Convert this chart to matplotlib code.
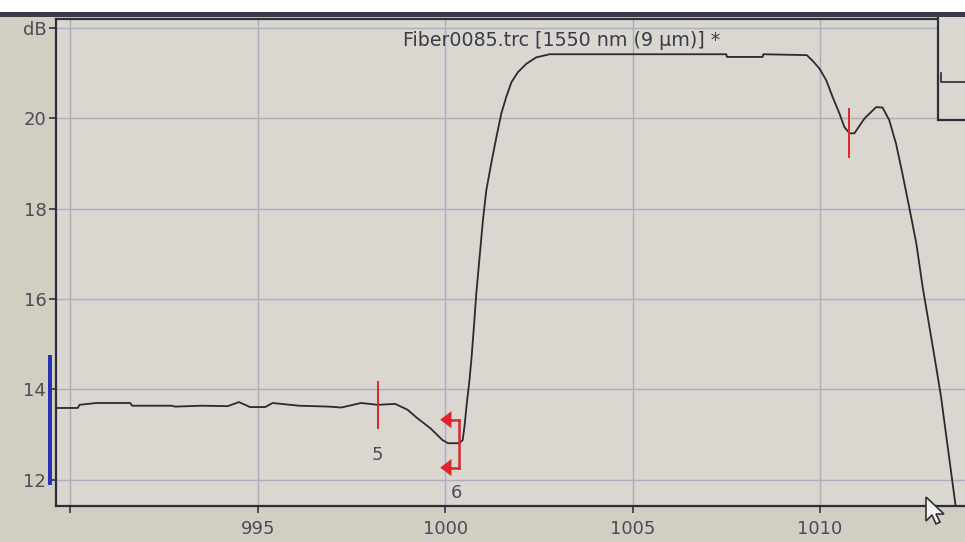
import matplotlib
matplotlib.use("Agg")
import matplotlib.pyplot as plt
from matplotlib.patches import Rectangle, Polygon
import matplotlib.lines as mlines

# ---- data (distance in m, level in dB) ----
dist = [989.6, 990.2, 990.25, 990.7, 991.6, 991.65, 992.7, 992.8, 993.5, 994.2,
        994.5, 994.8, 995.2, 995.4, 996.1, 996.9, 997.23, 997.76, 998.2, 998.67,
        999.0, 999.25, 999.61, 999.93, 1000.08, 1000.38, 1000.47, 1000.52, 1000.58,
        1000.65, 1000.71, 1000.77, 1000.83, 1000.92, 1001.01, 1001.10, 1001.23, 1001.37,
        1001.50, 1001.63, 1001.77, 1001.94, 1002.17, 1002.43, 1002.79,
        1007.5, 1007.52, 1008.47, 1008.49, 1009.65, 1009.8, 1009.99, 1010.17,
        1010.34, 1010.52, 1010.65, 1010.79, 1010.92, 1011.19, 1011.5, 1011.67,
        1011.85, 1012.03, 1012.2, 1012.38, 1012.57, 1012.74, 1012.92, 1013.1,
        1013.23, 1013.62]
level = [13.59, 13.59, 13.66, 13.70, 13.70, 13.64, 13.64, 13.62, 13.64, 13.63,
         13.72, 13.61, 13.61, 13.70, 13.64, 13.62, 13.60, 13.70, 13.66, 13.68,
         13.55, 13.37, 13.14, 12.88, 12.81, 12.81, 12.88, 13.20, 13.70,
         14.20, 14.75, 15.40, 16.10, 16.93, 17.75, 18.41, 19.00, 19.59,
         20.11, 20.47, 20.80, 21.02, 21.21, 21.35, 21.42,
         21.42, 21.36, 21.36, 21.42, 21.40, 21.28, 21.10, 20.84,
         20.47, 20.11, 19.81, 19.67, 19.67, 20.00, 20.25, 20.24,
         19.96, 19.44, 18.78, 18.04, 17.24, 16.27, 15.39, 14.50,
         13.84, 11.42]

# event markers
ev_x = [998.2, 1010.77]
ev_ymin = [13.15, 19.15]
ev_ymax = [14.17, 20.20]
ev_labels = ["5", ""]
span_x = 1000.37          # marker 6 (span marker with arrows)
span_y = [13.33, 12.27]
span_label = "6"

xticks = [990, 995, 1000, 1005, 1010]
xtick_labels = ["", "995", "1000", "1005", "1010"]
yticks = [12, 14, 16, 18, 20, 22]
ytick_labels = ["12", "14", "16", "18", "20", "dB"]
title = "Fiber0085.trc [1550 nm (9 µm)] *"

# ---- figure ----
W, H = 965, 542
fig = plt.figure(figsize=(W / 100, H / 100), dpi=100)
fig.patch.set_facecolor("#d2cec1")
fig.patches.append(Rectangle((0, 1 - 12 / H), 1, 12 / H, transform=fig.transFigure,
                             facecolor="white", edgecolor="none", zorder=0))
fig.patches.append(Rectangle((0, 1 - 17 / H), 1, 5 / H, transform=fig.transFigure,
                             facecolor="#3a3a48", edgecolor="none", zorder=0))

left, right, bottom, top = 56 / W, 1.0, (H - 506) / H, (H - 19) / H
ax = fig.add_axes([left, bottom, right - left, top - bottom])
ax.set_facecolor("#d9d7cf")
ax.set_xlim(989.62, 1013.87)
ax.set_ylim(11.42, 22.2)

ax.set_xticks(xticks)
ax.set_xticklabels(xtick_labels)
ax.set_yticks(yticks)
ax.set_yticklabels(ytick_labels)
ax.grid(True, color="#aeadc0", linewidth=1.0)
ax.set_axisbelow(True)
ax.tick_params(axis="both", direction="out", length=5, width=1.2, color="#333340",
               labelsize=13, labelcolor="#4b4b58")
ax.tick_params(axis="x", pad=5)
ax.tick_params(axis="y", pad=2)
for s in ["left", "bottom", "top"]:
    ax.spines[s].set_color("#2e2e3a")
    ax.spines[s].set_linewidth(1.6)
ax.spines["right"].set_visible(False)

# trace
ax.plot(dist, level, color="#2a2a30", linewidth=1.3, zorder=3)

red = "#e0232d"
for x, y0, y1, lab in zip(ev_x, ev_ymin, ev_ymax, ev_labels):
    ax.plot([x, x], [y0, y1], color=red, linewidth=1.4, zorder=4)
    if lab:
        ax.text(x, 12.55, lab, color="#4b4b58", fontsize=13, ha="center", va="center")

# span marker 6
ax.plot([span_x, span_x], span_y, color=red, linewidth=1.8, zorder=4)
for yy in span_y:
    ax.plot([span_x - 0.25, span_x], [yy, yy], color=red, linewidth=1.8, zorder=4)
    tri = [(span_x - 0.5, yy), (span_x - 0.2, yy + 0.19), (span_x - 0.2, yy - 0.19)]
    ax.add_patch(Polygon(tri, closed=True, facecolor=red, edgecolor="none", zorder=4))
ax.text(span_x - 0.07, 11.71, span_label, color="#4b4b58", fontsize=13,
        ha="center", va="center")

ax.text(1003.1, 21.72, title, color="#3a3a4a", fontsize=13.7, ha="center", va="center")

# mini overview box at top right
bx0 = (938 - 56) / (W - 56)
by0 = (506 - 120) / (506 - 19)
ax.add_patch(Rectangle((bx0, by0), 1.2, 1.2, transform=ax.transAxes, facecolor="#d9d7cf",
                       edgecolor="#2e2e3a", linewidth=1.6, zorder=5, clip_on=False))
ax.add_line(mlines.Line2D([bx0 + 0.003, bx0 + 0.003, 1.0],
                          [(506 - 73) / 487, (506 - 82) / 487, (506 - 82) / 487],
                          transform=ax.transAxes, color="#2a2a30", linewidth=1.2, zorder=6))

# blue bar at left
fig.patches.append(Rectangle((48 / W, (H - 485) / H), 4 / W, 130 / H, transform=fig.transFigure,
                             facecolor="#2b2fb5", edgecolor="none", zorder=3))

# mouse cursor
cx, cy = 926, 497
pts = [(0, 0), (0, 24), (6, 18), (10, 27), (14, 25), (10, 17), (18, 17)]
fig.patches.append(Polygon([((cx + px) / W, (H - (cy + py)) / H) for px, py in pts],
                           closed=True, transform=fig.transFigure, facecolor="#f2f2f2",
                           edgecolor="#333333", linewidth=1.2, zorder=10))

fig.savefig("out.png", dpi=100, facecolor=fig.get_facecolor())
